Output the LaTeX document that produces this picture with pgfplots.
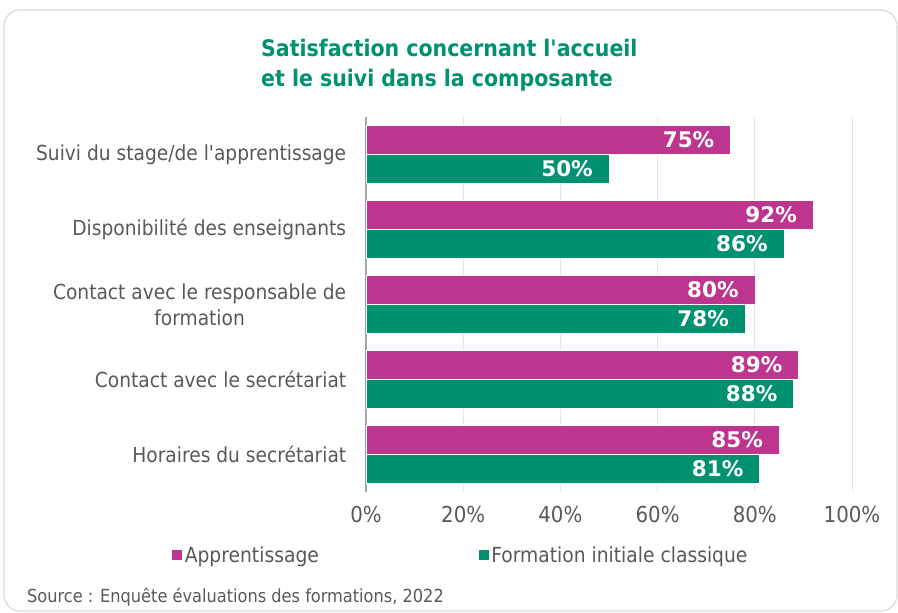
\documentclass[border=0pt]{standalone}
\usepackage{pgfplots}
\pgfplotsset{compat=1.18}
\usepackage{fontspec}
\setmainfont{DejaVu Sans Condensed}
\newfontfamily\valfont{DejaVu Sans}
\definecolor{mag}{HTML}{BE3590}
\definecolor{grn}{HTML}{009270}
\definecolor{txt}{HTML}{595959}
\definecolor{ttl}{HTML}{00916E}
\begin{document}
\begin{tikzpicture}[x=1pt,y=1pt]
\path[use as bounding box] (0,0) rectangle (898,613);
\begin{scope}
\clip (0,0) rectangle (898,613);
\draw[color=black!15, line width=1.2pt, rounded corners=16pt] (4,2) rectangle (897,603);
\end{scope}
\node[anchor=base west, text=ttl, font=\bfseries\fontsize{22.8}{26}\selectfont, inner sep=0pt] at (261,556) {Satisfaction concernant l\textquotesingle accueil};
\node[anchor=base west, text=ttl, font=\bfseries\fontsize{22.8}{26}\selectfont, inner sep=0pt] at (261,526) {et le suivi dans la composante};
\node[anchor=west, text=txt, font=\fontsize{18}{21}\selectfont, inner sep=0pt] at (27,16) {Source : Enquête évaluations des formations, 2022};
\begin{axis}[
  at={(366pt,121pt)}, anchor=south west,
  scale only axis, width=486pt, height=375pt,
  xmin=0, xmax=100, ymin=-0.5, ymax=4.5,
  xbar, bar width=28.5pt,
  axis line style={draw=none}, tick style={draw=none},
  xmajorgrids, grid style={color=black!10, line width=1pt},
  xtick={0,20,...,100},
  xticklabel={\pgfmathprintnumber[assume math mode=true]{\tick}\%},
  xticklabel style={font=\fontsize{22}{26}\selectfont, text=txt, yshift=-11pt},
  extra x ticks={0}, extra x tick labels={},
  extra x tick style={grid style={color=black!35, line width=1.2pt}},
  ytick={0,1,2,3,4},
  yticklabels={Horaires du secrétariat, Contact avec le secrétariat, {Contact avec le responsable de\\formation}, Disponibilité des enseignants, Suivi du stage/de l\textquotesingle apprentissage},
  yticklabel style={align=center, font=\fontsize{20.7}{26}\selectfont, text=txt, xshift=-12pt},
  point meta=x,
  nodes near coords={\pgfmathprintnumber[assume math mode=true]{\pgfplotspointmeta}\%},
  nodes near coords style={font=\valfont\bfseries\fontsize{21.5}{24}\selectfont, text=white, anchor=east, xshift=-16pt, inner sep=0pt},
  legend style={at={(axis description cs:-0.401,-0.168)}, anchor=west, draw=none, fill=none, inner sep=0pt,
    legend columns=2, font=\fontsize{20.8}{24}\selectfont, text=txt,
    /tikz/every even column/.append style={column sep=157pt}},
  legend image code/.code={\fill[#1] (0pt,-5.5pt) rectangle (11pt,5.5pt);},
]
\addplot[fill=mag, draw=white, line width=0.5pt, bar shift=14.5pt] coordinates {(85,0) (89,1) (80,2) (92,3) (75,4)};
\addplot[fill=grn, draw=white, line width=0.5pt, bar shift=-14.5pt] coordinates {(81,0) (88,1) (78,2) (86,3) (50,4)};
\legend{Apprentissage, Formation initiale classique}
\end{axis}
\end{tikzpicture}
\end{document}
